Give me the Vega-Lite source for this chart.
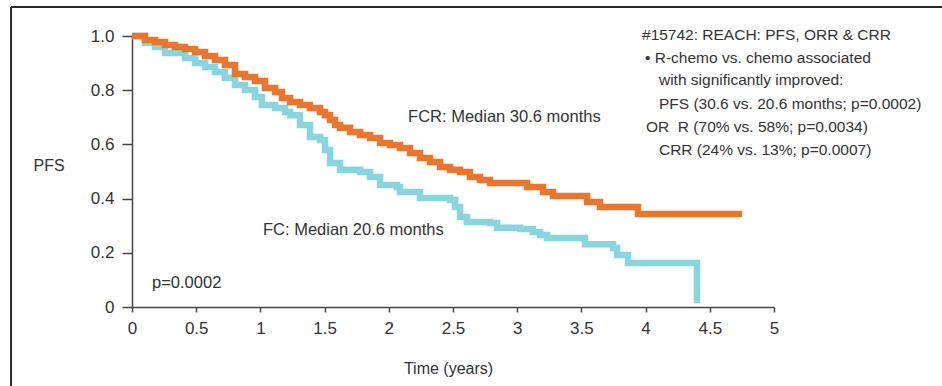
{
  "$schema": "https://vega.github.io/schema/vega-lite/v6.json",
  "width": 642,
  "height": 271,
  "autosize": {"type": "none"},
  "padding": {"left": 132, "top": 36, "right": 168, "bottom": 79},
  "background": "white",
  "config": {
    "view": {"stroke": null},
    "font": "Liberation Sans",
    "text": {"font": "Liberation Sans", "fontSize": 16, "color": "#333333", "align": "left", "baseline": "middle"}
  },
  "datasets": {
    "fc": [
      {"t": 0, "s": 1.0}, {"t": 0.101, "s": 0.974}, {"t": 0.179, "s": 0.959}, {"t": 0.257, "s": 0.937},
      {"t": 0.413, "s": 0.919}, {"t": 0.491, "s": 0.900}, {"t": 0.569, "s": 0.886}, {"t": 0.646, "s": 0.867},
      {"t": 0.724, "s": 0.845}, {"t": 0.802, "s": 0.819}, {"t": 0.880, "s": 0.801}, {"t": 0.958, "s": 0.775},
      {"t": 1.012, "s": 0.745}, {"t": 1.114, "s": 0.734}, {"t": 1.192, "s": 0.720}, {"t": 1.231, "s": 0.708},
      {"t": 1.308, "s": 0.672}, {"t": 1.386, "s": 0.627}, {"t": 1.464, "s": 0.616}, {"t": 1.503, "s": 0.579},
      {"t": 1.542, "s": 0.531}, {"t": 1.620, "s": 0.506}, {"t": 1.776, "s": 0.498}, {"t": 1.854, "s": 0.480},
      {"t": 1.932, "s": 0.450}, {"t": 2.064, "s": 0.443}, {"t": 2.087, "s": 0.424}, {"t": 2.243, "s": 0.402},
      {"t": 2.477, "s": 0.395}, {"t": 2.516, "s": 0.369}, {"t": 2.555, "s": 0.332}, {"t": 2.609, "s": 0.314},
      {"t": 2.788, "s": 0.310}, {"t": 2.843, "s": 0.292}, {"t": 3.022, "s": 0.288}, {"t": 3.123, "s": 0.277},
      {"t": 3.178, "s": 0.266}, {"t": 3.232, "s": 0.255}, {"t": 3.528, "s": 0.232}, {"t": 3.746, "s": 0.218},
      {"t": 3.777, "s": 0.192}, {"t": 3.863, "s": 0.162}, {"t": 4.400, "s": 0.015}
    ],
    "fcr": [
      {"t": 0, "s": 1.0}, {"t": 0.101, "s": 0.985}, {"t": 0.179, "s": 0.978}, {"t": 0.257, "s": 0.967},
      {"t": 0.335, "s": 0.959}, {"t": 0.413, "s": 0.952}, {"t": 0.491, "s": 0.941}, {"t": 0.569, "s": 0.926},
      {"t": 0.646, "s": 0.911}, {"t": 0.724, "s": 0.893}, {"t": 0.802, "s": 0.860}, {"t": 0.880, "s": 0.849},
      {"t": 0.958, "s": 0.834}, {"t": 1.036, "s": 0.808}, {"t": 1.114, "s": 0.793}, {"t": 1.168, "s": 0.771},
      {"t": 1.231, "s": 0.756}, {"t": 1.308, "s": 0.745}, {"t": 1.386, "s": 0.734}, {"t": 1.464, "s": 0.720},
      {"t": 1.503, "s": 0.708}, {"t": 1.542, "s": 0.690}, {"t": 1.581, "s": 0.672}, {"t": 1.620, "s": 0.661},
      {"t": 1.698, "s": 0.646}, {"t": 1.776, "s": 0.635}, {"t": 1.854, "s": 0.624}, {"t": 1.932, "s": 0.605},
      {"t": 2.009, "s": 0.598}, {"t": 2.087, "s": 0.587}, {"t": 2.165, "s": 0.568}, {"t": 2.243, "s": 0.550},
      {"t": 2.321, "s": 0.535}, {"t": 2.399, "s": 0.517}, {"t": 2.477, "s": 0.506}, {"t": 2.555, "s": 0.498},
      {"t": 2.632, "s": 0.480}, {"t": 2.710, "s": 0.469}, {"t": 2.788, "s": 0.458}, {"t": 3.076, "s": 0.443},
      {"t": 3.201, "s": 0.424}, {"t": 3.279, "s": 0.410}, {"t": 3.544, "s": 0.387}, {"t": 3.645, "s": 0.369},
      {"t": 3.941, "s": 0.343}, {"t": 4.751, "s": 0.343}
    ]
  },
  "layer": [
    {
      "data": {"name": "fc"},
      "mark": {"type": "line", "interpolate": "step-after", "color": "#88D4DF", "strokeWidth": 6.5, "strokeCap": "butt"},
      "encoding": {
        "x": {
          "field": "t", "type": "quantitative",
          "scale": {"domain": [0, 5], "nice": false, "zero": false},
          "axis": {
            "values": [0, 0.5, 1, 1.5, 2, 2.5, 3, 3.5, 4, 4.5, 5],
            "format": "~g",
            "grid": false,
            "labelFlush": false,
            "domainColor": "#444444", "domainWidth": 1.5,
            "tickColor": "#444444", "tickWidth": 1.5, "tickSize": 5,
            "labelFont": "Liberation Sans", "labelFontSize": 17, "labelColor": "#333333",
            "labelPadding": 8,
            "title": "Time (years)",
            "titleFont": "Liberation Sans", "titleFontSize": 16, "titleFontWeight": "normal", "titleColor": "#333333",
            "titleX": 316, "titleY": 61, "titleBaseline": "middle"
          }
        },
        "y": {
          "field": "s", "type": "quantitative",
          "scale": {"domain": [0, 1], "nice": false, "zero": false},
          "axis": {
            "values": [0, 0.2, 0.4, 0.6, 0.8, 1.0],
            "labelExpr": "datum.value == 0 ? '0' : format(datum.value, '.1f')",
            "grid": false,
            "labelFlush": false,
            "domainColor": "#444444", "domainWidth": 1.5,
            "tickColor": "#444444", "tickWidth": 1.5, "tickSize": 10,
            "labelFont": "Liberation Sans", "labelFontSize": 17, "labelColor": "#333333",
            "labelPadding": 8,
            "title": "PFS",
            "titleFont": "Liberation Sans", "titleFontSize": 16, "titleFontWeight": "normal", "titleColor": "#333333",
            "titleAngle": 0, "titleAlign": "left", "titleBaseline": "middle",
            "titleX": -99, "titleY": 129
          }
        }
      }
    },
    {
      "data": {"name": "fcr"},
      "mark": {"type": "line", "interpolate": "step-after", "color": "#E8772D", "strokeWidth": 6.5, "strokeCap": "butt"},
      "encoding": {
        "x": {"field": "t", "type": "quantitative", "title": "Time (years)"},
        "y": {"field": "s", "type": "quantitative", "title": "PFS"}
      }
    },
    {
      "data": {"values": [{}]},
      "mark": {"type": "rule", "color": "#2b2b2b", "strokeWidth": 2, "clip": false},
      "encoding": {
        "x": {"datum": -0.942, "type": "quantitative"},
        "y": {"datum": 1.107, "type": "quantitative"},
        "y2": {"datum": -0.3}
      }
    },
    {
      "data": {"values": [{}]},
      "mark": {"type": "rule", "color": "#2b2b2b", "strokeWidth": 2, "clip": false},
      "encoding": {
        "x": {"datum": -0.942, "type": "quantitative"},
        "x2": {"datum": 6.4},
        "y": {"datum": 1.107, "type": "quantitative"}
      }
    },
    {
      "data": {"values": [{"label": "FCR: Median 30.6 months"}]},
      "mark": {"type": "text", "clip": false, "fontSize": 16.5},
      "encoding": {"x": {"datum": 2.15, "type": "quantitative"}, "y": {"datum": 0.701, "type": "quantitative"}, "text": {"field": "label"}}
    },
    {
      "data": {"values": [{"label": "FC: Median 20.6 months"}]},
      "mark": {"type": "text", "clip": false, "fontSize": 16.5},
      "encoding": {"x": {"datum": 1.02, "type": "quantitative"}, "y": {"datum": 0.284, "type": "quantitative"}, "text": {"field": "label"}}
    },
    {
      "data": {"values": [{"label": "p=0.0002"}]},
      "mark": {"type": "text", "clip": false, "fontSize": 16.5},
      "encoding": {"x": {"datum": 0.156, "type": "quantitative"}, "y": {"datum": 0.088, "type": "quantitative"}, "text": {"field": "label"}}
    },
    {
      "data": {"values": [{"label": "#15742: REACH: PFS, ORR & CRR"}]},
      "mark": {"type": "text", "clip": false, "fontSize": 15.5},
      "encoding": {"x": {"datum": 3.972, "type": "quantitative"}, "y": {"datum": 1.004, "type": "quantitative"}, "text": {"field": "label"}}
    },
    {
      "data": {"values": [{"label": "• R-chemo vs. chemo associated"}]},
      "mark": {"type": "text", "clip": false, "fontSize": 15.5},
      "encoding": {"x": {"datum": 3.995, "type": "quantitative"}, "y": {"datum": 0.919, "type": "quantitative"}, "text": {"field": "label"}}
    },
    {
      "data": {"values": [{"label": "with significantly improved:"}]},
      "mark": {"type": "text", "clip": false, "fontSize": 15.5},
      "encoding": {"x": {"datum": 4.104, "type": "quantitative"}, "y": {"datum": 0.838, "type": "quantitative"}, "text": {"field": "label"}}
    },
    {
      "data": {"values": [{"label": "PFS (30.6 vs. 20.6 months; p=0.0002)"}]},
      "mark": {"type": "text", "clip": false, "fontSize": 15.5},
      "encoding": {"x": {"datum": 4.104, "type": "quantitative"}, "y": {"datum": 0.749, "type": "quantitative"}, "text": {"field": "label"}}
    },
    {
      "data": {"values": [{"label": "OR\u00a0\u00a0R (70% vs. 58%; p=0.0034)"}]},
      "mark": {"type": "text", "clip": false, "fontSize": 15.5},
      "encoding": {"x": {"datum": 4.003, "type": "quantitative"}, "y": {"datum": 0.664, "type": "quantitative"}, "text": {"field": "label"}}
    },
    {
      "data": {"values": [{"label": "CRR (24% vs. 13%; p=0.0007)"}]},
      "mark": {"type": "text", "clip": false, "fontSize": 15.5},
      "encoding": {"x": {"datum": 4.104, "type": "quantitative"}, "y": {"datum": 0.579, "type": "quantitative"}, "text": {"field": "label"}}
    }
  ]
}
